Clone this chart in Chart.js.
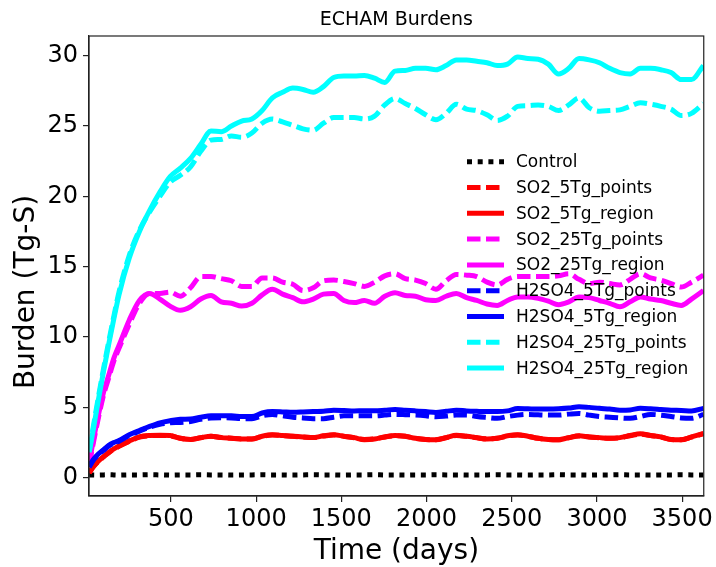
<!DOCTYPE html>
<html>
<head>
<meta charset="utf-8">
<script src="https://cdn.jsdelivr.net/npm/chart.js@4.4.1/dist/chart.umd.min.js"></script>
<style>
html,body{margin:0;padding:0;background:#fff;}
canvas{display:block;}
</style>
</head>
<body>
<canvas id="c" width="716" height="567" style="width:716px;height:567px"></canvas>
<script>
// ---------- DATA ----------
const chartTitle = "ECHAM Burdens";
const xLabel = "Time (days)";
const yLabel = "Burden (Tg-S)";
const xTicks = [500, 1000, 1500, 2000, 2500, 3000, 3500];
const yTicks = [0, 5, 10, 15, 20, 25, 30];

const days = [20,45,75,105,135,165,195,255,315,375,435,495,555,615,675,735,795,855,915,975,1035,1095,1155,1215,1275,1335,1395,1455,1515,1575,1635,1695,1755,1815,1875,1935,1995,2055,2115,2175,2235,2295,2355,2415,2475,2535,2595,2655,2715,2775,2835,2895,2955,3015,3075,3135,3195,3255,3315,3375,3435,3495,3555,3625];

const control = [0.20,0.20,0.19,0.20,0.21,0.20,0.19,0.20,0.20,0.21,0.20,0.19,0.20,0.20,0.21,0.20,0.20,0.19,0.20,0.20,0.21,0.20,0.20,0.19,0.20,0.21,0.20,0.20,0.19,0.20,0.20,0.21,0.20,0.20,0.19,0.20,0.20,0.21,0.20,0.20,0.19,0.20,0.20,0.21,0.20,0.20,0.19,0.20,0.20,0.21,0.20,0.20,0.19,0.20,0.20,0.21,0.20,0.20,0.19,0.20,0.20,0.21,0.20,0.20];

const so2_5_points = [0.34,0.78,1.18,1.48,1.78,2.03,2.23,2.58,2.88,2.98,3.00,2.98,2.80,2.72,2.84,2.94,2.86,2.80,2.76,2.76,2.94,3.04,3.00,2.94,2.90,2.86,2.96,3.04,2.94,2.84,2.72,2.76,2.90,2.98,2.94,2.80,2.72,2.70,2.84,3.00,2.94,2.84,2.76,2.80,2.96,3.04,2.94,2.80,2.72,2.70,2.84,2.96,2.90,2.84,2.80,2.84,2.98,3.10,3.00,2.90,2.72,2.70,2.88,3.12];
const so2_5_region = [0.35,0.80,1.20,1.50,1.80,2.05,2.25,2.60,2.90,3.00,3.02,3.00,2.80,2.72,2.85,2.95,2.85,2.80,2.75,2.75,2.95,3.05,3.00,2.95,2.90,2.85,2.98,3.05,2.95,2.85,2.70,2.75,2.90,3.00,2.95,2.80,2.72,2.70,2.85,3.02,2.95,2.85,2.75,2.80,2.98,3.05,2.95,2.80,2.72,2.70,2.85,2.98,2.90,2.85,2.80,2.85,3.00,3.12,3.00,2.90,2.72,2.70,2.90,3.15];

const so2_25_points = [0.9,2.5,4.3,5.9,7.1,8.3,9.2,10.9,12.4,13.1,13.1,13.2,12.9,13.5,14.3,14.3,14.15,14.0,13.6,13.6,14.2,14.2,13.9,13.75,13.3,13.5,14.0,14.05,13.95,13.8,13.6,13.9,14.35,14.5,14.15,14.05,13.8,13.4,14.0,14.45,14.4,14.3,13.9,13.7,14.1,14.3,14.3,14.3,14.3,14.35,14.5,14.1,13.8,13.9,13.8,13.7,14.1,14.5,14.2,14.05,13.8,13.55,13.9,14.4];
const so2_25_region = [1.0,2.7,4.5,6.1,7.3,8.5,9.4,11.2,12.6,13.1,12.7,12.2,11.9,12.15,12.7,12.95,12.5,12.4,12.2,12.4,13.0,13.4,13.05,12.8,12.5,12.7,13.05,13.1,12.6,12.45,12.6,12.4,12.9,13.15,12.95,12.9,12.65,12.6,12.9,13.1,12.8,12.6,12.35,12.25,12.6,12.85,12.85,12.75,12.55,12.3,12.5,12.85,12.8,12.6,12.4,12.15,12.5,12.85,12.7,12.6,12.4,12.25,12.7,13.3];

const h2so4_5_points = [0.75,1.25,1.65,1.95,2.25,2.45,2.6,3.0,3.3,3.6,3.8,3.9,3.93,4.0,4.15,4.25,4.26,4.25,4.2,4.2,4.4,4.5,4.4,4.3,4.25,4.2,4.2,4.3,4.4,4.4,4.4,4.4,4.45,4.5,4.48,4.45,4.4,4.33,4.38,4.45,4.45,4.35,4.28,4.22,4.35,4.45,4.5,4.47,4.45,4.45,4.52,4.57,4.45,4.35,4.3,4.25,4.22,4.35,4.5,4.45,4.35,4.25,4.22,4.5];
const h2so4_5_region = [0.8,1.3,1.7,2.0,2.3,2.5,2.65,3.05,3.35,3.65,3.9,4.05,4.15,4.17,4.3,4.4,4.4,4.4,4.35,4.35,4.6,4.7,4.68,4.65,4.67,4.7,4.72,4.8,4.78,4.75,4.76,4.76,4.8,4.85,4.8,4.75,4.7,4.64,4.72,4.8,4.75,4.72,4.7,4.7,4.75,4.92,4.9,4.88,4.88,4.9,4.95,5.05,5.0,4.93,4.88,4.8,4.82,4.93,4.9,4.85,4.8,4.78,4.74,4.93];

const h2so4_25_points = [1.9,3.7,5.8,7.8,9.7,11.5,13.2,15.8,17.6,18.9,20.0,21.0,21.5,22.1,23.2,24.0,24.05,24.3,24.2,24.5,25.2,25.5,25.3,25.05,24.8,24.7,25.2,25.6,25.6,25.6,25.5,25.7,26.5,26.95,26.6,26.25,25.8,25.45,25.9,26.55,26.2,26.1,25.8,25.4,25.7,26.4,26.45,26.5,26.4,26.1,26.5,27.0,26.3,26.05,26.1,26.15,26.4,26.65,26.55,26.4,26.2,25.75,25.9,26.6];
const h2so4_25_region = [1.8,3.5,5.6,7.6,9.5,11.3,13.0,15.6,17.5,19.0,20.3,21.4,22.0,22.7,23.7,24.65,24.6,25.0,25.35,25.5,26.1,27.0,27.4,27.7,27.6,27.4,27.8,28.45,28.55,28.55,28.6,28.4,28.1,28.9,28.95,29.1,29.1,29.0,29.3,29.7,29.7,29.6,29.5,29.3,29.4,29.9,29.8,29.75,29.4,28.7,29.1,29.8,29.7,29.5,29.1,28.8,28.7,29.1,29.1,29.0,28.8,28.3,28.3,29.3];

const seriesNames = ["Control","SO2_5Tg_points","SO2_5Tg_region","SO2_25Tg_points","SO2_25Tg_region","H2SO4_5Tg_points","H2SO4_5Tg_region","H2SO4_25Tg_points","H2SO4_25Tg_region"];
const seriesValues = [control, so2_5_points, so2_5_region, so2_25_points, so2_25_region, h2so4_5_points, h2so4_5_region, h2so4_25_points, h2so4_25_region];
const seriesColors = ["#000000","#ff0000","#ff0000","#ff00ff","#ff00ff","#0000ff","#0000ff","#00ffff","#00ffff"];
const seriesStyles = ["dotted","dashed","solid","dashed","solid","dashed","solid","dashed","solid"];

// ---------- STYLE ----------
const FONT = "'DejaVu Sans', 'Liberation Sans', sans-serif";
const dashFor = s => s === "dotted" ? [5, 5.7] : s === "dashed" ? [13.5, 5.5] : [];
const AXIS_COLOR = "#222222";

const datasets = seriesNames.map((name, i) => ({
  label: name,
  data: days.map((d, k) => ({x: d, y: seriesValues[i][k]})),
  borderColor: seriesColors[i],
  backgroundColor: seriesColors[i],
  borderWidth: 5,
  borderDash: dashFor(seriesStyles[i]),
  borderCapStyle: "butt",
  borderJoinStyle: "round",
  pointRadius: 0,
  fill: false,
  cubicInterpolationMode: "monotone",
  order: seriesNames.length - i
}));

const decorPlugin = {
  id: "decor",
  afterDraw(chart) {
    const ctx = chart.ctx;
    const a = chart.chartArea;
    ctx.save();
    // frame (top & right spines)
    ctx.strokeStyle = AXIS_COLOR;
    ctx.lineWidth = 1.2;
    ctx.setLineDash([]);
    ctx.strokeRect(a.left, a.top, a.right - a.left, a.bottom - a.top);
    // title
    ctx.fillStyle = "#000";
    ctx.font = "19px " + FONT;
    ctx.textAlign = "center";
    ctx.textBaseline = "alphabetic";
    ctx.fillText(chartTitle, (a.left + a.right) / 2, 25);
    // y axis label
    ctx.save();
    ctx.translate(27, 292);
    ctx.rotate(-Math.PI / 2);
    ctx.font = "28px " + FONT;
    ctx.textAlign = "center";
    ctx.textBaseline = "middle";
    ctx.fillText(yLabel, 0, 0);
    ctx.restore();
    // legend
    const x0 = 467, x1 = 504, tx = 516, y0 = 161.7, dy = 25.8;
    ctx.font = "17px " + FONT;
    ctx.textAlign = "left";
    ctx.textBaseline = "middle";
    chart.data.datasets.forEach((ds, i) => {
      const y = y0 + i * dy;
      ctx.beginPath();
      ctx.strokeStyle = ds.borderColor;
      ctx.lineWidth = ds.borderWidth;
      ctx.lineCap = "butt";
      ctx.setLineDash(ds.borderDash);
      ctx.moveTo(x0, y);
      ctx.lineTo(x1, y);
      ctx.stroke();
      ctx.setLineDash([]);
      ctx.fillStyle = "#000";
      ctx.fillText(ds.label, tx, y + 1);
    });
    ctx.restore();
  }
};

new Chart(document.getElementById("c"), {
  type: "line",
  data: { datasets },
  plugins: [decorPlugin],
  options: {
    responsive: false,
    animation: false,
    devicePixelRatio: 1,
    layout: { padding: { left: 0, right: 10, top: 36, bottom: 0 } },
    plugins: { legend: { display: false }, title: { display: false }, tooltip: { enabled: false } },
    scales: {
      x: {
        type: "linear",
        min: 19,
        max: 3627,
        afterFit(s) { s.height = 71; },
        afterBuildTicks(s) { s.ticks = xTicks.map(v => ({ value: v })); },
        ticks: { color: "#000", font: { family: FONT, size: 24 }, padding: 3, maxRotation: 0, autoSkip: false, callback: v => String(v) },
        grid: { drawOnChartArea: false, drawTicks: true, tickLength: 6, tickColor: AXIS_COLOR, lineWidth: 1.2 },
        border: { display: true, color: AXIS_COLOR, width: 1.2 },
        title: { display: true, text: xLabel, color: "#000", font: { family: FONT, size: 28, lineHeight: 1.1 }, padding: { top: 0, bottom: 0 } }
      },
      y: {
        type: "linear",
        min: -1.3,
        max: 31.4,
        afterFit(s) { s.width = 89; },
        afterBuildTicks(s) { s.ticks = yTicks.map(v => ({ value: v })); },
        ticks: { color: "#000", font: { family: FONT, size: 24 }, padding: 5, autoSkip: false, callback: v => String(v) },
        grid: { drawOnChartArea: false, drawTicks: true, tickLength: 6, tickColor: AXIS_COLOR, lineWidth: 1.2 },
        border: { display: true, color: AXIS_COLOR, width: 1.2 },
        title: { display: false }
      }
    }
  }
});
</script>
</body>
</html>
